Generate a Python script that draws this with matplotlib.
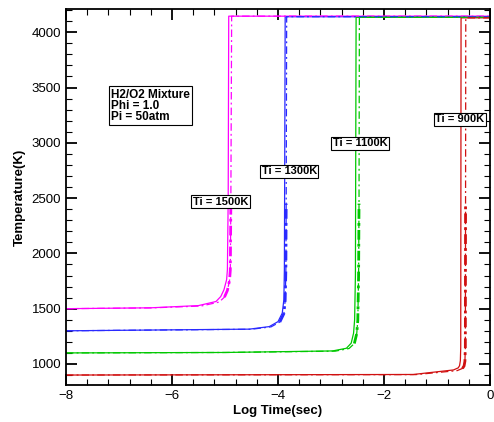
import numpy as np
import matplotlib
matplotlib.use('Agg')
import matplotlib.pyplot as plt
from matplotlib.ticker import MultipleLocator

plt.rcParams['font.family'] = ['Liberation Sans', 'DejaVu Sans']

# 点火曲线数据 (log10 时间, 温度)
t1500 = [-8, -6.4, -5.5, -5.17, -5.08, -5.02, -4.97, -4.955, -4.94, -4.93, 0]
T1500 = [1500, 1508, 1528, 1565, 1610, 1671, 1762, 1852, 2500, 4145, 4145]
t1500_dd = [-8, -6.4, -5.45, -5.11, -5.01, -4.955, -4.915, -4.9, -4.89, -4.875, 0]
T1500_dd = [1500, 1507, 1524, 1560, 1605, 1665, 1755, 1850, 2450, 4145, 4145]

t1300 = [-8, -4.54, -4.165, -4.0, -3.92, -3.89, -3.88, -3.865, 0]
T1300 = [1300, 1315, 1338, 1383, 1460, 1580, 1852, 4140, 4140]
t1300_dd = [-8, -4.5, -4.13, -3.965, -3.89, -3.865, -3.852, -3.846, -3.837, 0]
T1300_dd = [1300, 1314, 1336, 1380, 1455, 1575, 1850, 2450, 4140, 4140]

t1100 = [-8, -5, -2.97, -2.71, -2.62, -2.575, -2.555, -2.54, -2.527, 0]
T1100 = [1100, 1104, 1118, 1142, 1188, 1278, 1399, 1800, 4135, 4135]
t1100_dd = [-8, -5, -2.92, -2.66, -2.56, -2.515, -2.495, -2.48, -2.472, -2.465, 0]
T1100_dd = [1100, 1104, 1116, 1140, 1185, 1275, 1395, 1800, 2450, 4135, 4135]

t900 = [-8, -1.45, -0.69, -0.6, -0.575, -0.56, -0.553, -0.547, 0]
T900 = [900, 905, 946, 965, 985, 1030, 1150, 4130, 4130]
t900_dd = [-8, -1.4, -0.62, -0.52, -0.49, -0.474, -0.466, -0.462, -0.458, 0]
T900_dd = [900, 904, 940, 960, 982, 1025, 1150, 2450, 4130, 4130]

labels = ['Ti = 1500K', 'Ti = 1300K', 'Ti = 1100K', 'Ti = 900K']
label_x = [-5.08, -3.79, -2.45, -0.57]
label_T = [2469, 2741, 2995, 3212]

colors = ['#ff00ff', '#2a2aff', '#00c800', '#d01010']
solid = [(t1500, T1500), (t1300, T1300), (t1100, T1100), (t900, T900)]
dashdot = [(t1500_dd, T1500_dd), (t1300_dd, T1300_dd), (t1100_dd, T1100_dd), (t900_dd, T900_dd)]

fig = plt.figure(figsize=(4.94, 4.22), dpi=100)
ax = fig.add_axes([0.1336, 0.0877, 0.8584, 0.891])

for c, (x, y) in zip(colors, solid):
    ax.plot(x, y, color=c, lw=0.9, solid_capstyle='butt')

for c, (x, y) in zip(colors, dashdot):
    x = np.array(x)
    y = np.array(y)
    ax.plot(x, y, color=c, lw=0.9, dashes=(6, 2.5, 1.5, 2.5))
    # 拐角到 2450K 之间较粗
    k = np.argmax(y >= 2450) + 1
    j = k - 5
    ax.plot(x[j:k], y[j:k], color=c, lw=2.0, dashes=(3.5, 1.5, 1, 1.5))

box = dict(boxstyle='square,pad=0.15', fc='white', ec='black', lw=0.8)
for s, xx, yy in zip(labels, label_x, label_T):
    ax.text(xx, yy, s, ha='center', va='center', fontsize=8, fontweight='bold', bbox=box, zorder=5)

ax.text(-7.15, 3488, 'H2/O2 Mixture\nPhi = 1.0\nPi = 50atm', ha='left', va='top', fontsize=8.5,
        fontweight='bold', linespacing=0.9,
        bbox=dict(boxstyle='square,pad=0.2', fc='white', ec='black', lw=0.8), zorder=5)

ax.set_xlim(-8, 0)
ax.set_ylim(810, 4210)
ax.xaxis.set_major_locator(MultipleLocator(2))
ax.xaxis.set_minor_locator(MultipleLocator(0.4))
ax.yaxis.set_major_locator(MultipleLocator(500))
ax.yaxis.set_minor_locator(MultipleLocator(100))
ax.tick_params(which='both', direction='in', top=True, right=True, labelsize=9.5)
ax.tick_params(which='major', length=8, width=1.3)
ax.tick_params(which='minor', length=4, width=0.8)
for sp in ax.spines.values():
    sp.set_linewidth(1.3)

ax.set_xlabel('Log Time(sec)', fontsize=9.5, fontweight='bold', labelpad=2)
ax.set_ylabel('Temperature(K)', fontsize=9.5, fontweight='bold', labelpad=4)

fig.savefig('out.png', dpi=100)
